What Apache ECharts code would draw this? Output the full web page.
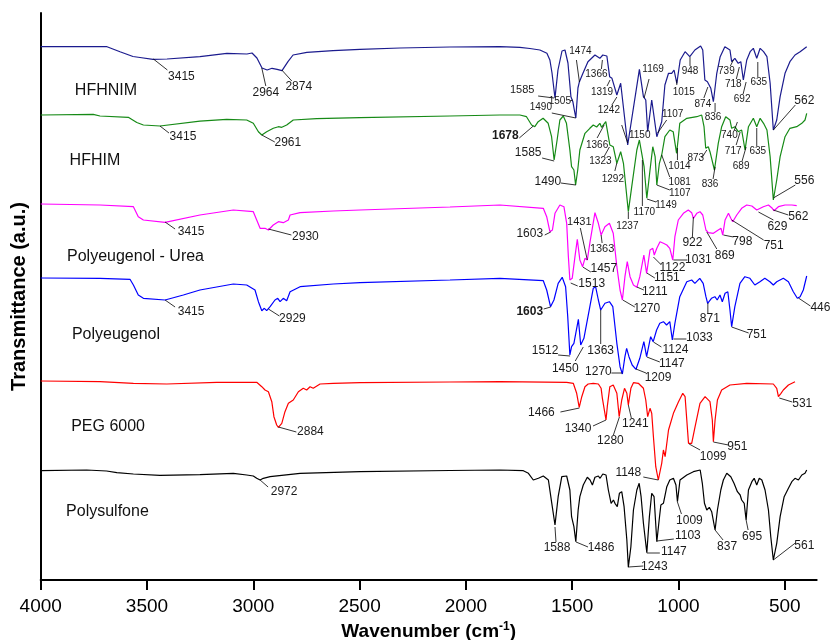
<!DOCTYPE html>
<html><head><meta charset="utf-8">
<script src="https://cdn.jsdelivr.net/npm/echarts@6/dist/echarts.min.js"></script>
<style>html,body{margin:0;padding:0;background:#fff}#c{width:832px;height:640px}</style>
</head><body><div id="c"></div>
<script>
const xTicks = [4000, 3500, 3000, 2500, 2000, 1500, 1000, 500];
const seriesNames = ['HFHNIM', 'HFHIM', 'Polyeugenol - Urea', 'Polyeugenol', 'PEG 6000', 'Polysulfone'];

const hfhnim = [[4000,533.3],[3688,533.3],[3627,528.3],[3566,523.5],[3533,522.5],[3472,520.7],[3406,521],[3251,523.3],[3124,526.7],[3030,526],[3006,527],[2983,522],[2959,512],[2935,510],[2912,511.7],[2888,510.7],[2865,509.3],[2837,518.3],[2813,525],[2748,527.7],[2625,529.3],[2498,530.7],[2310,532],[2075,533],[1840,533.3],[1746,532.7],[1699,531.5],[1652,530],[1619,526.7],[1605,520],[1595,507],[1581,482],[1567,510],[1548,529],[1534,530],[1520,517],[1506,483.3],[1497,478.3],[1490,470],[1483,462],[1473,492],[1466,498.3],[1449,507],[1426,518.3],[1393,525],[1370,521.7],[1356,525],[1337,524],[1324,503.3],[1313,501.7],[1306,503.3],[1290,485],[1272,496.7],[1239,435],[1184,510.7],[1165,483.3],[1154,480],[1145,448.3],[1126,480],[1102,443.3],[1079,458.3],[1064,495],[1047,506.7],[1032,506.7],[1021,510],[1008,496.7],[992,520],[969,528.3],[947,523.3],[923,530],[896,534],[886,530],[876,500],[864,498.3],[848,491.7],[836,478.3],[820,506.7],[804,523.3],[782,533.3],[758,530],[750,518.3],[735,521.7],[719,516.7],[707,518.3],[695,500],[679,520],[663,528.3],[648,531.7],[632,521.7],[616,531.7],[600,528.3],[584,523.3],[569,496.7],[554,450],[538,460],[522,483.3],[499,506.7],[476,518.3],[452,525],[428,528.3],[397,533.3]];

const hfhim = [[4000,465],[3753,465.7],[3721,464],[3588,462.7],[3548,457.5],[3517,455],[3439,454],[3251,458.8],[3125,460.7],[3031,460],[3000,456.7],[2976,448.3],[2960,445],[2937,448.3],[2906,451.7],[2882,453.3],[2866,452.7],[2843,455],[2812,460],[2702,461.3],[2498,462.3],[2075,464],[1840,465],[1746,465],[1715,463.3],[1691,455],[1676,453.3],[1660,458.3],[1637,461.7],[1613,456.7],[1597,443.3],[1585,420],[1571,440],[1558,460],[1542,464],[1527,456.7],[1511,430],[1503,413.3],[1492,410],[1484,395],[1474,410],[1464,430],[1440,446.7],[1417,451.7],[1401,455],[1385,453],[1370,456.7],[1362,452.7],[1342,458.3],[1323,435],[1307,433.3],[1290,416.7],[1272,428.3],[1259,416.7],[1236,368.3],[1220,393.3],[1196,430],[1184,440],[1173,426.7],[1162,413.3],[1149,381.7],[1134,410],[1121,433.3],[1110,423.3],[1102,395],[1090,416.7],[1079,425],[1064,443.3],[1041,450],[1025,448.3],[1017,446.7],[1009,426.7],[1002,440],[994,456.7],[961,461.7],[914,463.3],[891,465],[880,453.3],[872,431.7],[860,433.3],[852,428.3],[831,410],[813,436.7],[797,453.3],[778,463.3],[758,460],[750,451.7],[735,453.3],[719,448.3],[703,450],[687,430],[671,453.3],[648,461.7],[632,453.3],[616,461.7],[600,456.7],[584,450],[569,423.3],[554,380],[538,400],[522,423.3],[499,443.3],[476,451.7],[444,453.3],[420,456.7],[405,460],[397,466.7]];

const polyUrea = [[4000,376],[3721,375],[3564,373.3],[3541,363.3],[3517,360],[3415,357.7],[3251,365],[3094,370],[3000,368.3],[2984,360],[2968,351.7],[2945,351.7],[2929,350],[2906,355],[2882,358.3],[2859,357.3],[2835,360],[2827,365],[2780,367.3],[2624,369],[2498,370],[2075,373],[1840,375],[1636,371.7],[1620,363.3],[1605,348.3],[1593,350],[1581,366.7],[1558,375],[1539,373.3],[1526,356.7],[1518,323.3],[1511,300],[1500,301.7],[1487,323.3],[1476,340.7],[1464,320],[1451,313.3],[1440,321.7],[1429,320],[1416,338.3],[1393,367.3],[1377,356.7],[1364,345],[1346,353.3],[1325,356.7],[1307,346.7],[1290,313.3],[1275,290],[1264,280],[1252,303.3],[1241,318.3],[1228,303.3],[1212,295],[1196,292.7],[1182,303.3],[1163,325],[1150,306.7],[1145,305],[1134,330],[1121,331.7],[1114,325],[1102,331.7],[1087,338.3],[1071,336.7],[1055,335],[1041,331.7],[1033,333.3],[1027,320],[1017,343.3],[1001,360],[977,366.7],[954,370],[938,367.3],[930,361.7],[914,366.7],[899,368.3],[886,365],[871,350],[860,347.3],[836,346.7],[813,350],[800,351.7],[792,345],[781,360],[765,366.7],[754,361.7],[745,358.3],[726,365],[703,371.7],[679,375],[655,374],[632,370],[624,368.3],[601,373.3],[577,375],[559,371.7],[551,369.3],[530,373.3],[499,375],[467,375],[444,374.3]];

const polyeugenol = [[4000,302],[3721,301.7],[3580,300.7],[3564,295],[3541,285],[3517,281.7],[3415,280],[3329,285],[3251,290],[3094,296],[3031,295],[2992,290],[2976,278.3],[2960,269.3],[2948,271.7],[2937,269.3],[2921,273.3],[2898,280],[2885,281.7],[2874,278.3],[2859,281.7],[2843,279.3],[2827,288.3],[2780,293.3],[2624,296],[2498,297.3],[2075,300],[1840,301.7],[1636,299.3],[1620,290],[1602,273.3],[1586,280],[1566,296.7],[1547,302.7],[1531,293.3],[1521,263.3],[1511,225],[1503,233.3],[1492,236.7],[1471,260.7],[1460,235],[1453,233.3],[1445,241.7],[1436,243.3],[1417,273.3],[1401,291.7],[1390,293.3],[1377,280],[1366,270],[1346,276.7],[1325,278.3],[1309,273.3],[1290,236.7],[1275,213.3],[1264,206],[1252,223.3],[1244,231.7],[1233,223.3],[1218,215],[1200,210.7],[1182,221.7],[1163,238.3],[1150,223.3],[1143,221.7],[1131,243.3],[1119,238.3],[1103,250],[1088,256.7],[1071,258.3],[1056,255],[1041,258.3],[1029,240],[1017,256.7],[994,283.3],[961,298.3],[938,300],[923,296.7],[900,301.7],[884,296.7],[871,283.3],[863,276.7],[845,281.7],[829,283.3],[818,280],[805,285],[794,278.3],[781,286.7],[768,288.3],[758,270],[750,253.3],[735,273.3],[711,296.7],[688,303.3],[664,301.7],[641,295],[617,298.3],[594,301.7],[570,298.3],[554,295],[538,298.3],[507,301.7],[483,298.3],[460,288.3],[441,281.7],[428,283.3],[413,290],[397,304]];

const peg6000 = [[4000,199],[3721,198.3],[3564,196.7],[3407,196],[3172,197.7],[2984,197.7],[2960,193.3],[2945,190],[2929,188.3],[2913,178.3],[2903,163.3],[2890,155],[2882,152.7],[2866,156.7],[2851,168.3],[2835,176.7],[2812,180],[2788,188.3],[2765,191.7],[2749,190],[2733,193.3],[2718,191.7],[2686,196],[2624,196.7],[2498,197.3],[2075,198],[1840,198.3],[1526,197.7],[1495,196.7],[1479,186.7],[1467,172.7],[1455,183.3],[1440,193.3],[1425,196],[1401,196.7],[1377,196],[1364,191.7],[1358,181.7],[1350,183.3],[1341,160],[1335,173.3],[1323,193.3],[1307,195],[1290,186.7],[1279,163.3],[1267,180],[1254,191.7],[1243,186.7],[1236,175],[1224,191.7],[1212,197.3],[1189,196.7],[1165,191.7],[1154,180],[1145,163.3],[1134,171.7],[1126,166.7],[1118,143.3],[1107,113.3],[1095,100],[1079,116.7],[1071,130],[1063,123.3],[1047,150],[1024,166.7],[1000,178.3],[980,186.7],[969,183.3],[961,160],[953,136.7],[938,136.7],[922,153.3],[899,176.7],[875,183.3],[852,178.3],[841,160],[836,138.3],[828,160],[817,180],[797,190],[758,195],[679,196.7],[554,196],[538,191.7],[530,183.3],[518,186.7],[507,190],[483,195],[452,198.3]];

const polysulfone = [[4000,109.3],[3784,110],[3690,109],[3642,107.3],[3564,106],[3439,104.7],[3251,105.3],[3094,106.7],[3031,105],[3000,104],[2984,101.7],[2968,100],[2953,101.7],[2921,103.3],[2780,106.7],[2498,108.3],[2075,109.5],[1840,110],[1730,109.3],[1706,106.7],[1683,100],[1659,101.7],[1636,104],[1612,100],[1596,76.7],[1581,55],[1566,83.3],[1549,103.3],[1526,104],[1511,90],[1503,63.3],[1492,53.3],[1483,38.3],[1472,70],[1464,83.3],[1448,95],[1429,102.7],[1416,100],[1405,95],[1393,102.7],[1377,104],[1369,101.7],[1356,106],[1341,105],[1330,90],[1317,76.7],[1306,80],[1299,76.7],[1288,73.3],[1278,86.7],[1267,88.3],[1256,73.3],[1243,40],[1236,12.7],[1224,33.3],[1212,70],[1196,90],[1185,96.7],[1176,83.3],[1165,56.7],[1157,55],[1149,27.3],[1137,63.3],[1126,86.7],[1115,83.3],[1102,38.3],[1091,60],[1083,75],[1071,76.7],[1055,93.3],[1041,100],[1024,101.7],[1012,95],[1005,78.3],[993,100],[961,105],[930,108.3],[898,110],[888,96.7],[878,76.7],[867,70],[855,72.7],[844,68.3],[828,50],[817,70],[801,90],[789,100],[773,106.7],[754,103.3],[739,96.7],[723,88.3],[710,85],[703,80],[691,76.7],[682,60],[671,90],[655,98.3],[644,101.7],[632,95],[620,101.7],[608,100],[593,90],[577,70],[566,43.3],[554,20],[538,36.7],[522,63.3],[503,83.3],[483,91.7],[467,98.3],[452,101.7],[436,100],[420,105],[405,106.7],[397,110]];

// peak annotations: [label, wavenumber, transmittance]
const hfhnimPeaks = [['3415',3470,521],['2964',2960,512],['2874',2866,510],['1474',1466,498],['1366',1358,520],['1585',1585,482],['1505',1497,480],['1490',1483,462],['1319',1322,500],['1242',1290,483],['1169',1162,482],['1150',1239,437],['1107',1098,447],['1015',1008,500],['948',946,523],['874',862,493],['836',828,477],['739',742,520],['718',714,513],['692',682,498],['635',627,518],['562',554,450]];
const hfhimPeaks = [['3415',3439,454],['2961',2960,445],['1678',1683,454],['1585',1585,419],['1490',1483,395],['1366',1350,455],['1323',1325,433],['1292',1290,417],['1237',1236,368],['1170',1170,420],['1149',1148,381],['1107',1102,395],['1081',1079,425],['1014',1005,432],['873',867,430],['836',828,413],['740',723,458],['717',710,448],['689',682,433],['635',632,452],['556',554,382]];
const polyUreaPeaks = [['3415',3415,358],['2930',2929,351],['1603',1601,348],['1431',1429,320],['1457',1450,313],['1363',1364,345],['1513',1507,297],['1270',1262,280],['1211',1196,293],['1151',1149,307],['1122',1118,323],['1031',1024,320],['922',930,363],['869',867,348],['798',789,345],['751',750,360],['629',624,368],['562',554,370]];
const polyeugenolPeaks = [['3415',3415,280],['2929',2929,271],['1603',1601,273],['1512',1510,224],['1450',1448,233],['1363',1366,270],['1270',1264,207],['1209',1200,211],['1147',1149,223],['1124',1118,238],['1033',1024,241],['871',862,277],['751',750,253],['446',436,282]];
const pegPeaks = [['2884',2882,153],['1466',1466,172],['1340',1341,160],['1280',1278,163],['1241',1236,175],['1148',1095,100],['1099',950,136],['951',836,138],['531',526,182]];
const polysulfonePeaks = [['2972',2968,100],['1588',1581,53],['1486',1482,38],['1243',1236,13],['1147',1149,27],['1103',1102,39],['1009',1005,78],['837',828,50],['695',682,60],['561',554,20]];

// layout of each annotation: leader end offset (px), text centre offset (px), font size, bold
const hfhnimLayout = [[14,11,28,18,12],[4,18,4,25,12],[10,11,17,17,12],[-3,-22,1,-31,10],[-1,9,-6,14,10],[-16,-2,-32,-8,11],[-3,1,-13,1,10],[-24,-5,-35,-11,10],[-3,6,-8,12,10],[-5,8,-8,13,10],[5,-19,9,-29,10],[-6,-18,12,-8,10],[9,-13,15,-19,10],[0,5,7,12,10],[0,9,0,14,10],[-4,11,-5,17,10],[0,9,-2,14,10],[-3,6,-7,11,10],[-3,12,-6,17,10],[-3,12,-4,17,10],[0,15,1,20,10],[22,-25,31,-29,12]];
const hfhimLayout = [[9,7,23,11,12],[13,7,26,8,12],[-14,12,-28,10,12,1],[-12,-3,-26,-8,12],[-15,-2,-28,-3,12],[-7,13,-7,20,10],[-5,9,-9,14,10],[-2,8,-4,16,10],[0,7,-1,14,10],[0,46,2,52,10],[9,3,19,6,10],[13,5,23,8,10],[8,22,18,27,10],[0,12,2,18,10],[-5,8,-11,8,10],[-2,12,-5,17,10],[-3,8,-8,13,10],[-4,13,-7,19,10],[-4,14,-5,19,10],[0,18,1,23,10],[22,-13,31,-17,12]];
const polyUreaLayout = [[10,7,26,10,12],[23,6,37,8,12],[-6,3,-21,2,12],[-7,-32,-8,-38,11],[8,5,21,2,12],[1,8,1,14,11],[7,3,21,1,12],[12,7,24,9,12],[7,3,18,5,12],[8,5,20,5,12],[8,8,19,11,12],[14,0,25,0,12],[-1,20,-1,26,12],[10,17,18,24,12],[10,2,19,7,12],[32,20,42,26,12],[15,8,19,15,12],[15,5,25,7,12]];
const polyeugenolLayout = [[10,7,26,12,12],[11,7,24,10,12],[-7,2,-21,5,12,1],[-12,-1,-25,-5,12],[-8,14,-18,22,12],[0,34,0,41,12],[-11,0,-24,-1,12],[10,4,22,9,12],[13,5,25,7,12],[8,5,22,8,12],[13,0,26,-1,12],[0,10,2,16,12],[17,6,25,8,12],[12,8,22,10,12]];
const pegLayout = [[18,5,32,5,12],[-19,4,-38,5,12],[-13,6,-28,9,12],[-6,18,-9,24,12],[3,13,7,19,12],[-15,-3,-30,-7,12],[11,6,24,13,12],[15,3,24,5,12],[13,4,23,6,12]];
const polysulfoneLayout = [[8,7,24,12,12],[1,15,2,21,12],[12,5,25,6,12],[15,-1,26,0,12],[13,0,27,-1,12],[17,-2,31,-5,12],[4,12,12,19,12],[8,10,12,17,12],[2,10,6,17,12],[22,-17,31,-14,12]];

// where each spectrum's name sits, in axis units
const nameAnchors = [[3693,489],[3745,419],[3554,323],[3646,245],[3683,153],[3686,68]];

const colors = ['#1b1b8e', '#168a16', '#ff00ff', '#0000ff', '#ff0000', '#000000'];
const spectra = [hfhnim, hfhim, polyUrea, polyeugenol, peg6000, polysulfone];
const peaks = [hfhnimPeaks, hfhimPeaks, polyUreaPeaks, polyeugenolPeaks, pegPeaks, polysulfonePeaks];
const layouts = [hfhnimLayout, hfhimLayout, polyUreaLayout, polyeugenolLayout, pegLayout, polysulfoneLayout];

const FONT = '"Liberation Sans", Arial, Helvetica, sans-serif';
const chart = echarts.init(document.getElementById('c'), null, {renderer: 'canvas'});

chart.setOption({
  animation: false,
  backgroundColor: '#fff',
  grid: {left: 40.7, right: 15.3, top: 13, bottom: 60, containLabel: false, outerBoundsMode: 'none'},
  xAxis: {
    type: 'value', inverse: true, min: 350, max: 4000,
    name: '{a|Wavenumber (cm}{s|-1}{a|)}',
    nameLocation: 'middle', nameGap: 34,
    nameTextStyle: {rich: {
      a: {fontFamily: FONT, fontSize: 19, fontWeight: 'bold', color: '#000', lineHeight: 22},
      s: {fontFamily: FONT, fontSize: 12, fontWeight: 'bold', color: '#000', verticalAlign: 'top', lineHeight: 12}
    }},
    axisLine: {show: true, onZero: false, lineStyle: {color: '#000', width: 2}},
    axisTick: {show: true, inside: false, length: 10, lineStyle: {color: '#000', width: 2}, customValues: xTicks},
    axisLabel: {show: true, fontFamily: FONT, fontSize: 19, color: '#000', margin: 17, customValues: xTicks,
      formatter: v => String(v)},
    splitLine: {show: false}
  },
  yAxis: {
    type: 'value', min: 0, max: 567,
    name: 'Transmittance (a.u.)', nameLocation: 'middle', nameGap: 11, nameRotate: 90,
    nameTextStyle: {fontFamily: FONT, fontSize: 20, fontWeight: 'bold', color: '#000'},
    axisLine: {show: true, lineStyle: {color: '#000', width: 2}},
    axisTick: {show: false}, axisLabel: {show: false}, splitLine: {show: false}
  },
  series: spectra.map((d, i) => ({
    name: seriesNames[i], type: 'line', data: d, showSymbol: false, symbol: 'none',
    lineStyle: {color: colors[i], width: 1.2}, silent: true, z: 2
  }))
});

const elements = [];
peaks.forEach((list, si) => {
  list.forEach((p, k) => {
    const L = layouts[si][k];
    const a = chart.convertToPixel({gridIndex: 0}, [p[1], p[2]]);
    elements.push({type: 'line', silent: true, z: 10,
      shape: {x1: a[0], y1: a[1], x2: a[0] + L[0], y2: a[1] + L[1]},
      style: {stroke: '#000', lineWidth: 0.8}});
    elements.push({type: 'text', silent: true, z: 11,
      x: a[0] + L[2], y: a[1] + L[3],
      style: {text: p[0], fill: '#1a1a1a', font: (L[5] ? 'bold ' : '') + L[4] + 'px ' + FONT,
        textAlign: 'center', textVerticalAlign: 'middle', align: 'center', verticalAlign: 'middle'}});
  });
});
nameAnchors.forEach((n, i) => {
  const a = chart.convertToPixel({gridIndex: 0}, n);
  elements.push({type: 'text', silent: true, z: 11, x: a[0], y: a[1],
    style: {text: seriesNames[i], fill: '#111', font: '16px ' + FONT,
      textAlign: 'center', textVerticalAlign: 'middle', align: 'center', verticalAlign: 'middle'}});
});
chart.setOption({graphic: {elements: elements}});
</script>
</body></html>
